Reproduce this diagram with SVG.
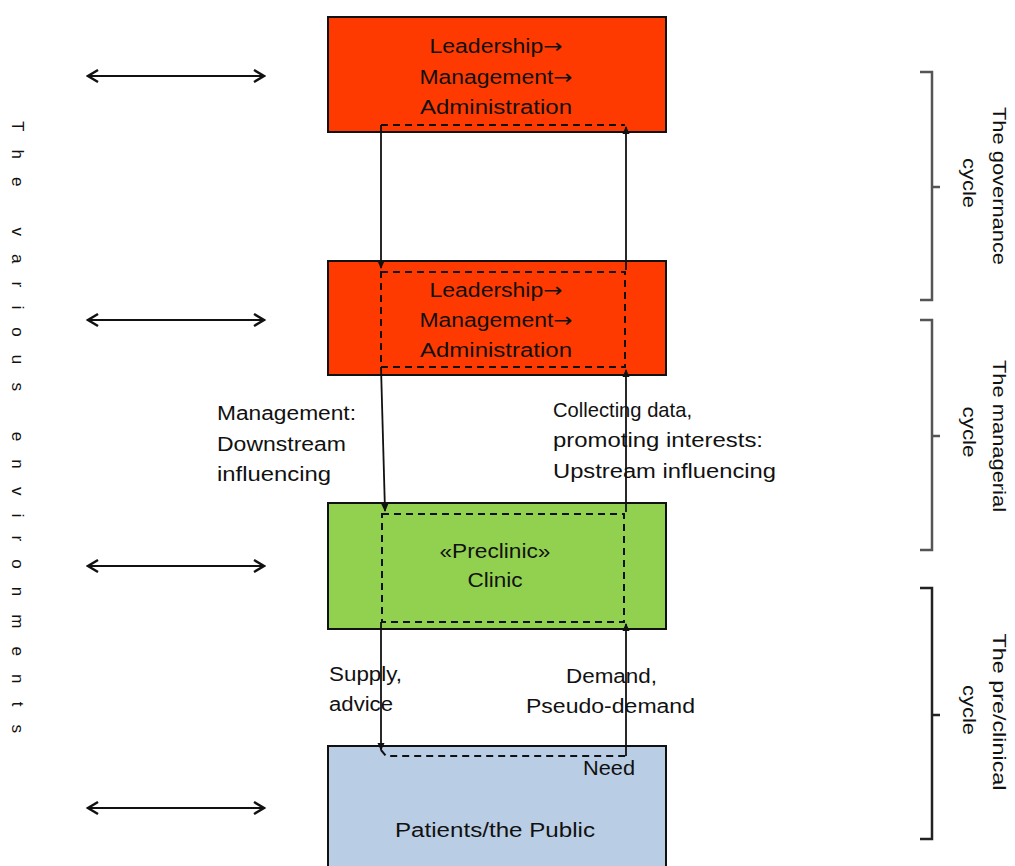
<svg xmlns="http://www.w3.org/2000/svg" width="1015" height="866" viewBox="0 0 1015 866">
<style>
.box{stroke:#111;stroke-width:2}
.t{font-family:"Liberation Sans",Arial,sans-serif;font-size:20px;fill:#111}
.tm{text-anchor:middle}
.ar{font-family:"DejaVu Sans",sans-serif}
.side{font-family:"Liberation Sans",Arial,sans-serif;font-size:18px;fill:#111;text-anchor:middle}
.conn{stroke:#111;stroke-width:1.8;fill:none}
.dash{stroke:#111;stroke-width:2;fill:none;stroke-dasharray:7 5}
.env{stroke:#111;stroke-width:2.2;fill:none}
.br{stroke:#555;stroke-width:2.5;fill:none}
</style>
<defs>
<marker id="ah" markerWidth="8" markerHeight="8" refX="7" refY="4" orient="auto" markerUnits="userSpaceOnUse">
<path d="M0,0.5 L8,4 L0,7.5 Z" fill="#111"/>
</marker>
<marker id="dh" markerWidth="14" markerHeight="14" refX="12" refY="7" orient="auto-start-reverse" markerUnits="userSpaceOnUse">
<path d="M2,1 L12,7 L2,13" fill="none" stroke="#111" stroke-width="2.4"/>
</marker>
</defs>

<g id="node-governance">
<rect class="box" x="328" y="17" width="338" height="115" fill="#FF3A00"/>
<text class="t tm" x="496" y="53" textLength="133" lengthAdjust="spacingAndGlyphs">Leadership<tspan class="ar">→</tspan></text>
<text class="t tm" x="496" y="84" textLength="153" lengthAdjust="spacingAndGlyphs">Management<tspan class="ar">→</tspan></text>
<text class="t tm" x="496" y="114" textLength="152" lengthAdjust="spacingAndGlyphs">Administration</text>
</g>

<g id="node-managerial">
<rect class="box" x="328" y="261" width="338" height="114" fill="#FF3A00"/>
<text class="t tm" x="496" y="297" textLength="133" lengthAdjust="spacingAndGlyphs">Leadership<tspan class="ar">→</tspan></text>
<text class="t tm" x="496" y="327" textLength="153" lengthAdjust="spacingAndGlyphs">Management<tspan class="ar">→</tspan></text>
<text class="t tm" x="496" y="357" textLength="152" lengthAdjust="spacingAndGlyphs">Administration</text>
</g>

<g id="node-clinic">
<rect class="box" x="328" y="503" width="338" height="126" fill="#92D050"/>
<text class="t tm" x="495" y="558" textLength="111" lengthAdjust="spacingAndGlyphs">«Preclinic»</text>
<text class="t tm" x="495" y="587" textLength="55" lengthAdjust="spacingAndGlyphs">Clinic</text>
</g>

<g id="node-public">
<rect class="box" x="328" y="746" width="338" height="140" fill="#B9CDE5"/>
<text class="t tm" x="495" y="837" textLength="200" lengthAdjust="spacingAndGlyphs">Patients/the Public</text>
<text class="t" x="583" y="775" textLength="52" lengthAdjust="spacingAndGlyphs">Need</text>
</g>

<g id="connectors">
<path class="dash" d="M381,125 H625"/>
<rect class="dash" x="381" y="272" width="244" height="95"/>
<rect class="dash" x="382" y="514" width="242" height="108"/>
<path class="dash" d="M381,750 L386,756 H626"/>
<path class="conn" d="M381,125 L381,268" marker-end="url(#ah)"/>
<path class="conn" d="M381,367 L385,511" marker-end="url(#ah)"/>
<path class="conn" d="M381,622 L381,750" marker-end="url(#ah)"/>
<path class="conn" d="M626,270 L626,127" marker-end="url(#ah)"/>
<path class="conn" d="M626,512 L626,370" marker-end="url(#ah)"/>
<path class="conn" d="M626,756 L626,624" marker-end="url(#ah)"/>
<path class="env" d="M88,76 H264" marker-start="url(#dh)" marker-end="url(#dh)"/>
<path class="env" d="M88,320 H264" marker-start="url(#dh)" marker-end="url(#dh)"/>
<path class="env" d="M88,566 H264" marker-start="url(#dh)" marker-end="url(#dh)"/>
<path class="env" d="M88,808 H264" marker-start="url(#dh)" marker-end="url(#dh)"/>
<path class="br" d="M920,72 H932 V300 H920 M932,187 H940"/>
<path class="br" d="M920,320 H932 V550 H920 M932,436 H940"/>
<path class="br" d="M920,588 H932 V839 H920 M932,715 H940" style="stroke:#222"/>
</g>

<g id="labels">
<text class="t" x="217" y="420" textLength="139" lengthAdjust="spacingAndGlyphs">Management:</text>
<text class="t" x="217" y="451" textLength="129" lengthAdjust="spacingAndGlyphs">Downstream</text>
<text class="t" x="217" y="481" textLength="114" lengthAdjust="spacingAndGlyphs">influencing</text>
<text class="t" x="553" y="417" style="font-size:21px" textLength="139" lengthAdjust="spacingAndGlyphs">Collecting data,</text>
<text class="t" x="553" y="447" textLength="210" lengthAdjust="spacingAndGlyphs">promoting interests:</text>
<text class="t" x="553" y="478" textLength="223" lengthAdjust="spacingAndGlyphs">Upstream influencing</text>
<text class="t" x="329" y="681" textLength="73" lengthAdjust="spacingAndGlyphs">Supply,</text>
<text class="t" x="329" y="711" textLength="64" lengthAdjust="spacingAndGlyphs">advice</text>
<text class="t" x="566" y="683" textLength="91" lengthAdjust="spacingAndGlyphs">Demand,</text>
<text class="t" x="526" y="713" textLength="169" lengthAdjust="spacingAndGlyphs">Pseudo-demand</text>
<text class="side" transform="translate(12,427) rotate(90)" style="font-size:17px" textLength="612" lengthAdjust="spacing">The various environments</text>
<text class="side" transform="translate(993,186) rotate(90)" textLength="158" lengthAdjust="spacingAndGlyphs">The governance</text>
<text class="side" transform="translate(963,183) rotate(90)" textLength="50" lengthAdjust="spacingAndGlyphs">cycle</text>
<text class="side" transform="translate(993,436) rotate(90)" textLength="152" lengthAdjust="spacingAndGlyphs">The managerial</text>
<text class="side" transform="translate(963,432) rotate(90)" textLength="51" lengthAdjust="spacingAndGlyphs">cycle</text>
<text class="side" transform="translate(993,712) rotate(90)" textLength="157" lengthAdjust="spacingAndGlyphs">The pre/clinical</text>
<text class="side" transform="translate(963,710) rotate(90)" textLength="50" lengthAdjust="spacingAndGlyphs">cycle</text>
</g>
</svg>
